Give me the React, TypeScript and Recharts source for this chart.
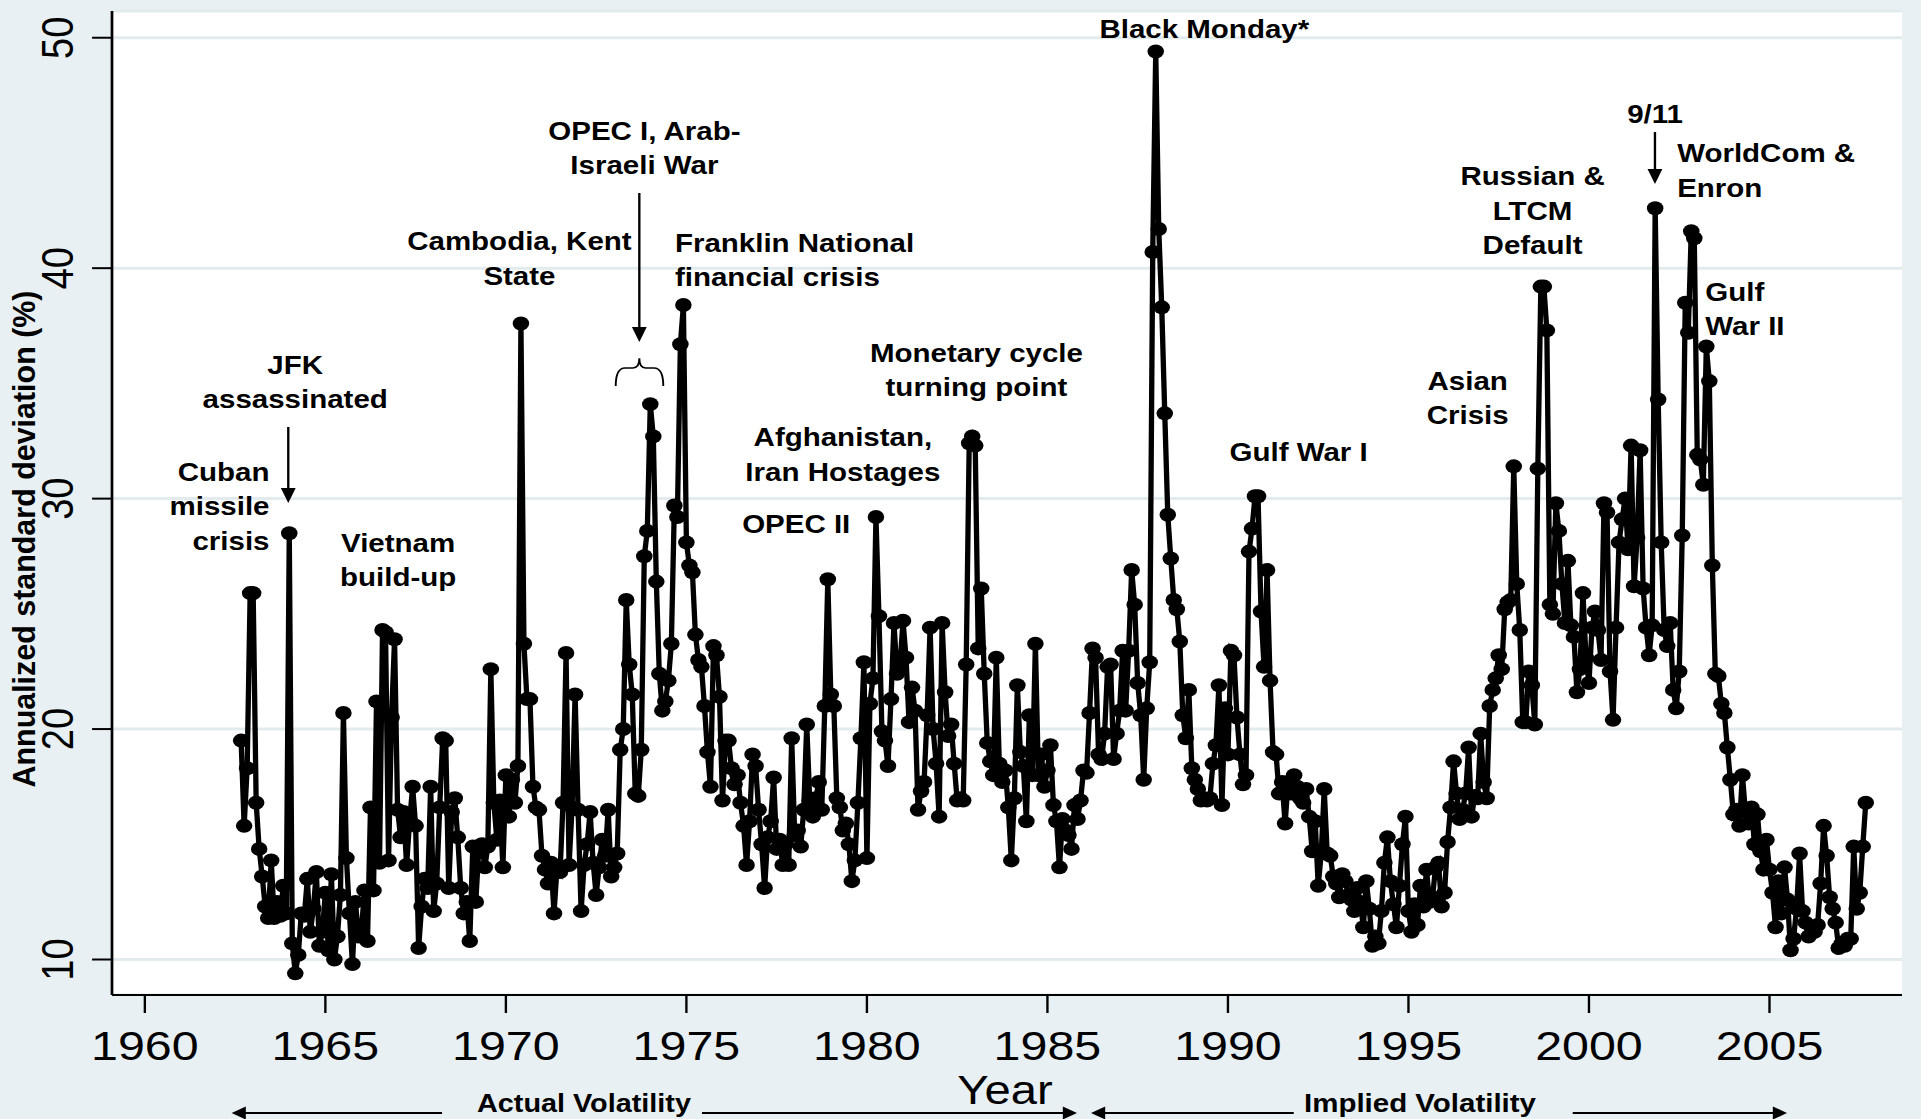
import React from 'react';
import { LineChart, Line, XAxis, YAxis, CartesianGrid } from 'recharts';

// ---- data (monthly) ----
const v1962 = [19.5, 15.8, 18.3, 25.9, 25.9, 16.8]; // Jul-Dec
const v1963 = [14.8, 13.6, 12.3, 11.8, 14.3, 11.8, 12.5, 11.9, 13.2, 12.0, 28.5, 10.7];
const v1964 = [9.4, 10.2, 12.0, 11.9, 13.5, 11.2, 12.2, 13.8, 10.6, 11.2, 12.9, 10.4];
const v1965 = [13.7, 10.0, 11.0, 12.8, 20.7, 14.4, 12.0, 9.8, 12.5, 11.0, 11.3, 13.0];
const v1966 = [10.8, 16.6, 13.0, 21.2, 14.2, 24.3, 24.2, 14.3, 20.5, 23.9, 16.5, 15.3];
const v1967 = [16.4, 14.1, 16.0, 17.5, 15.8, 10.5, 12.3, 13.5, 13.1, 17.5, 12.1, 13.3];
const v1968 = [16.6, 19.6, 19.5, 13.1, 16.4, 17.0, 15.3, 13.1, 12.0, 12.5, 10.8, 14.9];
const v1969 = [12.5, 14.8, 15.0, 14.0, 14.9, 22.6, 16.8, 15.2, 16.9, 14.0, 18.0, 16.2];
const v1970 = [17.8, 16.8, 18.4, 37.6, 23.7, 21.3, 21.3, 17.5, 16.6, 16.5, 14.5, 13.9];
const v1971 = [13.3, 14.2, 12.0, 14.0, 13.8, 16.8, 23.3, 14.1, 16.6, 21.5, 16.5, 12.1];
const v1972 = [14.1, 15.0, 16.4, 14.2, 12.8, 14.0, 15.2, 14.5, 16.5, 13.6, 14.0, 14.6];
const v1973 = [19.1, 20.0, 25.6, 22.8, 21.5, 17.2, 17.1, 19.1, 27.5, 28.6, 34.1, 32.7];
const v1974 = [26.4, 22.4, 20.8, 21.2, 22.1, 23.7, 29.7, 29.2, 36.7, 38.4, 28.1, 27.1];
const v1975 = [26.8, 24.1, 23.0, 22.7, 21.0, 19.0, 17.5, 23.6, 23.2, 21.4, 16.9, 19.5];
const v1976 = [19.5, 18.3, 17.6, 18.0, 16.8, 15.8, 14.1, 16.0, 18.9, 18.4, 16.5, 15.0];
const v1977 = [13.1, 15.3, 16.0, 17.9, 14.8, 15.2, 14.1, 15.0, 14.1, 19.6, 15.4, 15.6];
const v1978 = [14.9, 16.5, 20.2, 16.9, 16.2, 17.0, 17.7, 16.5, 21.0, 26.5, 21.5, 21.0];
const v1979 = [17.0, 16.6, 15.6, 15.9, 15.0, 13.4, 14.3, 16.8, 19.6, 22.9, 14.4, 21.1];
const v1980 = [22.2, 29.2, 24.9, 19.9, 19.5, 18.4, 21.3, 24.6, 22.4, 22.8, 24.7, 23.1];
const v1981 = [20.3, 21.8, 20.8, 16.5, 17.3, 17.7, 20.6, 24.4, 20.0, 18.5, 16.2, 24.6];
const v1982 = [21.6, 19.7, 20.2, 18.5, 16.9, 17.0, 16.9, 22.8, 32.4, 32.7, 32.3, 23.5];
const v1983 = [26.1, 22.4, 19.4, 18.6, 18.0, 23.1, 18.5, 17.7, 18.2, 16.6, 14.3, 17.0];
const v1984 = [21.9, 19.0, 18.4, 16.0, 20.6, 18.0, 23.7, 18.0, 18.9, 17.5, 18.2, 19.3];
const v1985 = [16.7, 16.0, 14.0, 16.1, 15.6, 15.4, 14.8, 16.7, 16.1, 16.9, 18.2, 18.1];
const v1986 = [20.7, 23.5, 23.1, 18.9, 18.7, 19.8, 22.7, 22.8, 18.7, 19.8, 20.8, 23.4];
const v1987 = [20.8, 23.4, 26.9, 25.4, 22.0, 20.6, 17.8, 20.9, 22.9, 40.7, 49.4, 41.7];
const v1988 = [38.3, 33.7, 29.3, 27.4, 25.6, 25.2, 23.8, 20.6, 19.6, 21.7, 18.3, 17.8];
const v1989 = [17.4, 16.9, 17.0, 16.9, 17.0, 18.5, 19.3, 21.9, 16.7, 20.9, 18.9, 23.4];
const v1990 = [23.2, 20.5, 18.9, 17.6, 18.0, 27.7, 28.7, 30.1, 30.1, 25.1, 22.7, 26.9];
const v1991 = [22.1, 19.0, 18.9, 17.2, 17.7, 15.9, 17.7, 17.2, 18.0, 17.5, 17.0, 16.8];
const v1992 = [17.4, 16.2, 14.7, 16.0, 13.2, 14.6, 17.4, 14.6, 14.5, 13.6, 13.3, 12.7];
const v1993 = [13.7, 13.4, 12.8, 12.6, 12.1, 13.1, 12.5, 11.4, 13.4, 12.2, 10.6, 11.0];
const v1994 = [10.7, 12.1, 14.2, 15.3, 13.4, 12.4, 11.4, 13.2, 15.0, 16.2, 12.1, 11.2];
const v1995 = [12.4, 11.5, 13.2, 12.3, 13.9, 12.5, 12.7, 14.0, 14.2, 12.3, 12.9, 15.1];
const v1996 = [16.6, 18.6, 17.2, 16.1, 16.5, 17.2, 19.2, 16.2, 17.1, 17.0, 19.8, 17.7];
const v1997 = [17.0, 21.0, 21.7, 22.2, 23.2, 22.6, 25.2, 25.5, 25.6, 31.4, 26.3, 24.3];
const v1998 = [20.3, 20.3, 22.5, 21.9, 20.2, 31.3, 39.2, 39.2, 37.3, 25.4, 25.0, 29.8];
const v1999 = [28.6, 26.3, 24.6, 27.3, 24.5, 24.0, 21.6, 22.6, 25.9, 23.1, 22.0, 24.4];
const v2000 = [25.1, 24.3, 23.0, 29.8, 29.4, 22.5, 20.4, 24.4, 28.1, 29.1, 30.0, 27.8];
const v2001 = [32.3, 26.2, 28.3, 32.1, 26.1, 24.4, 23.2, 24.5, 42.6, 34.3, 28.1, 24.3];
const v2002 = [23.6, 24.6, 21.7, 20.9, 22.5, 28.4, 38.5, 37.2, 41.6, 41.3, 31.9, 31.7];
const v2003 = [30.6, 36.6, 35.1, 27.1, 22.4, 22.3, 21.1, 20.7, 19.2, 17.8, 16.3, 16.5];
const v2004 = [15.8, 18.0, 16.4, 15.9, 16.6, 15.0, 16.3, 14.7, 13.9, 15.2, 13.9, 12.9];
const v2005 = [11.4, 13.4, 12.0, 14.0, 12.6, 10.4, 10.9, 12.2, 14.6, 12.1, 11.6, 11.0];
const v2006 = [11.4, 11.2, 11.5, 13.3, 15.8, 14.5, 12.7, 12.2, 11.6, 10.5, 10.7, 10.6];
const v2007 = [10.9, 10.9, 14.9, 12.2, 12.9, 14.9, 16.8]; // Jan-Jul

const START_YEAR = 1962;
const START_MONTH = 7; // first value is July 1962
const yearly = [
  v1962, v1963, v1964, v1965, v1966, v1967, v1968, v1969, v1970, v1971, v1972, v1973,
  v1974, v1975, v1976, v1977, v1978, v1979, v1980, v1981, v1982, v1983, v1984, v1985,
  v1986, v1987, v1988, v1989, v1990, v1991, v1992, v1993, v1994, v1995, v1996, v1997,
  v1998, v1999, v2000, v2001, v2002, v2003, v2004, v2005, v2006, v2007,
];

const xTicks = [1960, 1965, 1970, 1975, 1980, 1985, 1990, 1995, 2000, 2005];
const yTicks = [10, 20, 30, 40, 50];

type Note = { lines: string[]; x: number; y: number; anchor: 'start' | 'middle' | 'end' };
const notes: Note[] = [
  { lines: ['Cuban', 'missile', 'crisis'], x: 228.4, y: 480.7, anchor: 'end' },
  { lines: ['JFK', 'assassinated'], x: 250.2, y: 374, anchor: 'middle' },
  { lines: ['Vietnam', 'build-up'], x: 337.4, y: 551.7, anchor: 'middle' },
  { lines: ['Cambodia, Kent', 'State'], x: 440.2, y: 250.3, anchor: 'middle' },
  { lines: ['OPEC I, Arab-', 'Israeli War'], x: 546.1, y: 140, anchor: 'middle' },
  { lines: ['Franklin National', 'financial crisis'], x: 572, y: 251.6, anchor: 'start' },
  { lines: ['Monetary cycle', 'turning point'], x: 827.5, y: 361.8, anchor: 'middle' },
  { lines: ['Afghanistan,', 'Iran Hostages'], x: 714.3, y: 446.4, anchor: 'middle' },
  { lines: ['OPEC II'], x: 674.8, y: 533.3, anchor: 'middle' },
  { lines: ['Black Monday*'], x: 1020.6, y: 38.4, anchor: 'middle' },
  { lines: ['Gulf War I'], x: 1100.5, y: 461, anchor: 'middle' },
  { lines: ['Asian', 'Crisis'], x: 1243.8, y: 390, anchor: 'middle' },
  { lines: ['Russian &', 'LTCM', 'Default'], x: 1298.8, y: 185.4, anchor: 'middle' },
  { lines: ['9/11'], x: 1402.6, y: 122.9, anchor: 'middle' },
  { lines: ['WorldCom &', 'Enron'], x: 1421.3, y: 162.1, anchor: 'start' },
  { lines: ['Gulf', 'War II'], x: 1445.2, y: 300.6, anchor: 'start' },
];

// ---- layout ----
const S = 1.18; // horizontal stretch of the original picture
const W = 1921;
const H = 1119;
const W0 = W / S;
const BG = '#e8f0f3';
const FONT = '"Liberation Sans", Arial, Helvetica, sans-serif';
const LINE_H = 34.5;

// month m (1-based, counted from Jan of START_YEAR) is plotted at year + (m+1)/12, as in the original
const values: number[] = yearly.flat();
const data = values.map((v, i) => ({ t: START_YEAR + (START_MONTH + i + 1) / 12, v }));

const XTick = (props: any) => {
  const { x, y, payload } = props;
  return (
    <text x={x} y={y + 45.5} textAnchor="middle" fontSize={41} fontFamily={FONT} fill="#000">
      {payload.value}
    </text>
  );
};

const YTick = (props: any) => {
  const { x, y, payload } = props;
  const bx = x - 14.4;
  return (
    <text
      x={bx}
      y={y}
      transform={`rotate(-90, ${bx}, ${y})`}
      textAnchor="middle"
      fontSize={38}
      fontFamily={FONT}
      fill="#000"
    >
      {payload.value}
    </text>
  );
};

const Arrow = ({ x, y1, y2 }: { x: number; y1: number; y2: number }) => (
  <g>
    <line x1={x} y1={y1} x2={x} y2={y2 - 12} stroke="#000" strokeWidth={2} />
    <polygon points={`${x - 6.3},${y2 - 15} ${x + 6.3},${y2 - 15} ${x},${y2}`} fill="#000" />
  </g>
);

const Annotations = () => (
  <svg
    width={W0}
    height={H}
    style={{ position: 'absolute', left: 0, top: 0, pointerEvents: 'none', overflow: 'visible' }}
  >
    {notes.map((n, i) => (
      <text
        key={i}
        x={n.x}
        y={n.y}
        textAnchor={n.anchor}
        fontSize={25}
        fontWeight="bold"
        fontFamily={FONT}
        fill="#000"
      >
        {n.lines.map((l, j) => (
          <tspan key={j} x={n.x} y={n.y + j * LINE_H}>
            {l}
          </tspan>
        ))}
      </text>
    ))}
    {/* JFK arrow */}
    <Arrow x={244.3} y1={427} y2={503} />
    {/* OPEC I arrow + brace */}
    <Arrow x={541.8} y1={193} y2={342} />
    <path
      d="M 521.8 386 Q 521.8 368 529.7 368 L 536.4 368 Q 541.8 368 541.8 358.3 Q 541.8 368 547.1 368 L 554.2 368 Q 562.1 368 562.1 386"
      fill="none"
      stroke="#000"
      strokeWidth={1.6}
    />
    {/* 9/11 arrow */}
    <Arrow x={1402.5} y1={132} y2={184} />

    {/* y axis title */}
    <text
      x={30}
      y={539}
      transform={`rotate(-90, 30, 539)`}
      textAnchor="middle"
      fontSize={26}
      fontWeight="bold"
      fontFamily={FONT}
      textLength={497}
      lengthAdjust="spacingAndGlyphs"
      fill="#000"
    >
      Annualized standard deviation (%)
    </text>
    {/* x axis title */}
    <text x={851.7} y={1104} textAnchor="middle" fontSize={40} fontFamily={FONT} fill="#000">
      Year
    </text>

    {/* regime arrows */}
    <g stroke="#000" strokeWidth={2.2}>
      <line x1={204} y1={1113} x2={374.6} y2={1113} />
      <line x1={594.9} y1={1113} x2={905} y2={1113} />
      <line x1={932} y1={1113} x2={1096.4} y2={1113} />
      <line x1={1332.8} y1={1113} x2={1507} y2={1113} />
    </g>
    <g fill="#000">
      <polygon points="196.3,1113 208.3,1106.5 208.3,1119.5" />
      <polygon points="912.7,1113 900.7,1106.5 900.7,1119.5" />
      <polygon points="924.6,1113 936.6,1106.5 936.6,1119.5" />
      <polygon points="1514.4,1113 1502.4,1106.5 1502.4,1119.5" />
    </g>
    <text
      x={494.9}
      y={1112}
      textAnchor="middle"
      fontSize={26}
      fontWeight="bold"
      fontFamily={FONT}
      textLength={181.4}
      lengthAdjust="spacingAndGlyphs"
      fill="#000"
    >
      Actual Volatility
    </text>
    <text
      x={1203.4}
      y={1112}
      textAnchor="middle"
      fontSize={26}
      fontWeight="bold"
      fontFamily={FONT}
      textLength={196.6}
      lengthAdjust="spacingAndGlyphs"
      fill="#000"
    >
      Implied Volatility
    </text>
  </svg>
);

export default function App() {
  return (
    <div style={{ width: W, height: H, background: BG, position: 'relative', overflow: 'hidden' }}>
      <style>{'body{margin:0;background:' + BG + ';}'}</style>
      <div
        style={{
          position: 'absolute',
          left: 0,
          top: 0,
          width: W0,
          height: H,
          transform: `scaleX(${S})`,
          transformOrigin: '0 0',
        }}
      >
        <LineChart
          width={W0}
          height={H}
          data={data}
          margin={{ top: 11, right: W0 - 1902 / S, bottom: 0, left: 0 }}
        >
          <CartesianGrid vertical={false} stroke="#e2ebee" strokeWidth={3} fill="#ffffff" />
          <XAxis
            type="number"
            dataKey="t"
            domain={[1959.09, 2008.67]}
            ticks={xTicks}
            interval={0}
            allowDataOverflow
            height={124}
            tickSize={18}
            tickMargin={2}
            axisLine={{ stroke: '#000', strokeWidth: 2 }}
            tickLine={{ stroke: '#000', strokeWidth: 2 }}
            tick={XTick}
          />
          <YAxis
            type="number"
            domain={[8.46, 51.16]}
            ticks={yTicks}
            interval={0}
            allowDataOverflow
            width={112 / S}
            tickSize={16.9}
            tickMargin={2}
            axisLine={{ stroke: '#000', strokeWidth: 2.3 }}
            tickLine={{ stroke: '#000', strokeWidth: 2 }}
            tick={YTick}
          />
          <Line
            type="linear"
            dataKey="v"
            stroke="#000"
            strokeWidth={4.5}
            dot={{ r: 7, fill: '#000', stroke: 'none' }}
            isAnimationActive={false}
          />
        </LineChart>
        <Annotations />
      </div>
    </div>
  );
}
